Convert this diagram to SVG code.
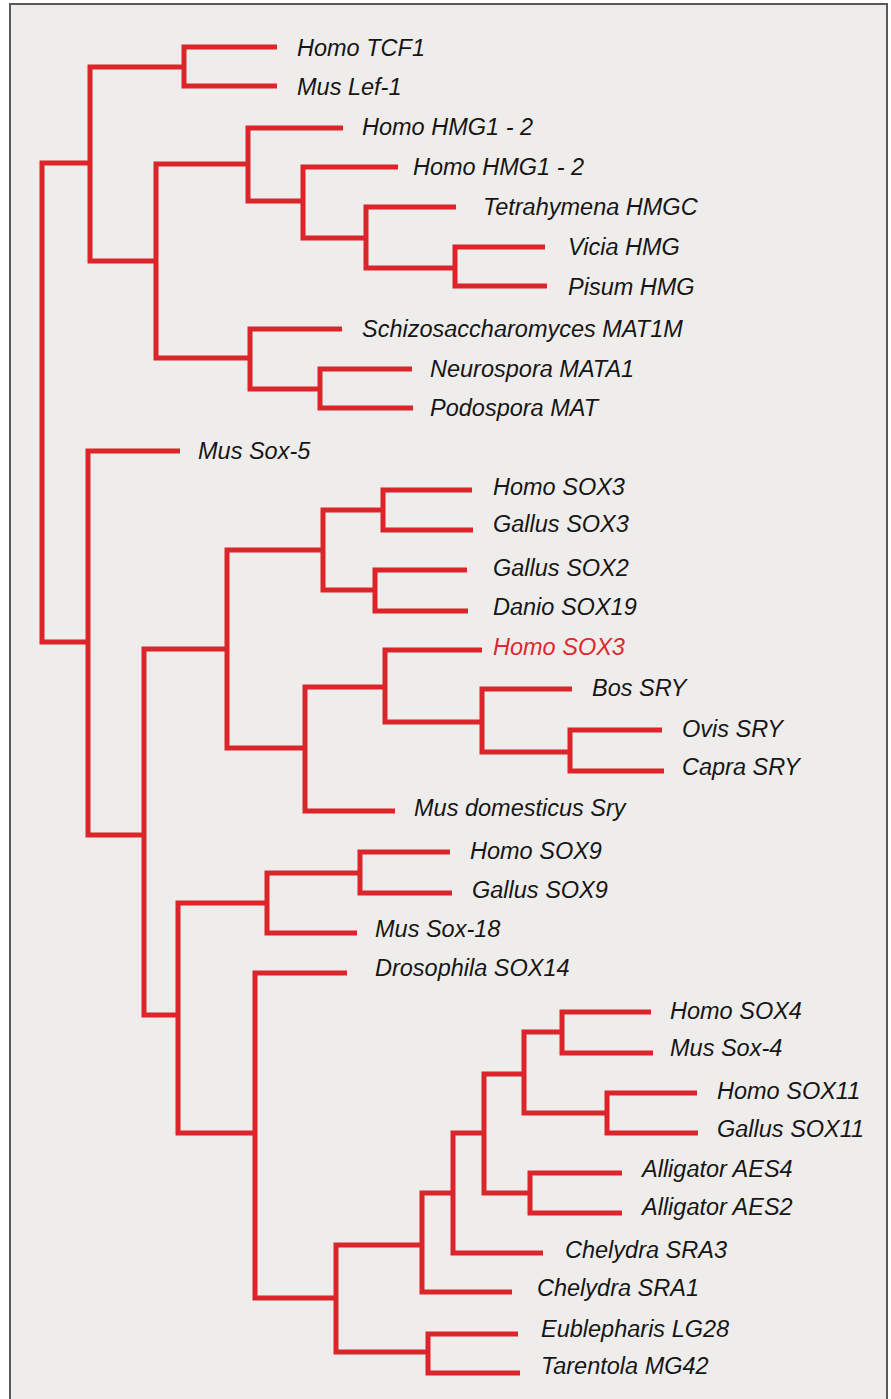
<svg xmlns="http://www.w3.org/2000/svg" width="891" height="1399" viewBox="0 0 891 1399">
<style>
.br{fill:none;stroke:#db252b;stroke-width:5;stroke-linejoin:miter;stroke-linecap:butt}
text{font-family:"Liberation Sans",Arial,sans-serif;font-style:italic;font-size:23.5px;fill:#161616}
.hl{fill:#dc2a2e}
</style>
<rect x="0" y="0" width="891" height="1399" fill="#ffffff"/>
<rect x="10" y="4" width="877" height="1410" fill="#efedeb" stroke="#5a5a5a" stroke-width="2"/>
<g id="connectors">
<path class="br" d="M90,163 H42 V642 H88"/>
<path class="br" d="M184,67 H90 V261 H156"/>
<path class="br" d="M277,47 H184 V86 H277"/>
<path class="br" d="M248,164 H156 V358 H250"/>
<path class="br" d="M343,128 H248 V201 H303"/>
<path class="br" d="M398,167 H303 V238 H366"/>
<path class="br" d="M456,207 H366 V268 H455"/>
<path class="br" d="M545,247 H455 V286 H547"/>
<path class="br" d="M342,329 H250 V389 H320"/>
<path class="br" d="M412,369 H320 V408 H413"/>
<path class="br" d="M180,451 H88 V835 H144"/>
<path class="br" d="M227,649 H144 V1015 H178"/>
<path class="br" d="M323,550 H227 V748 H305"/>
<path class="br" d="M383,510 H323 V590 H375"/>
<path class="br" d="M472,490 H383 V530 H473"/>
<path class="br" d="M467,570 H375 V611 H468"/>
<path class="br" d="M385,687 H305 V811 H395"/>
<path class="br" d="M482,650 H385 V722 H482"/>
<path class="br" d="M572,689 H482 V752 H570"/>
<path class="br" d="M662,730 H570 V771 H664"/>
<path class="br" d="M267,903 H178 V1133 H255"/>
<path class="br" d="M360,873 H267 V933 H357"/>
<path class="br" d="M450,852 H360 V893 H452"/>
<path class="br" d="M347,973 H255 V1298 H336"/>
<path class="br" d="M422,1245 H336 V1352 H428"/>
<path class="br" d="M518,1334 H428 V1373 H520"/>
<path class="br" d="M453,1193 H422 V1292 H512"/>
<path class="br" d="M484,1133 H453 V1253 H543"/>
<path class="br" d="M524,1074 H484 V1193 H530"/>
<path class="br" d="M562,1032 H524 V1113 H607"/>
<path class="br" d="M651,1012 H562 V1053 H653"/>
<path class="br" d="M697,1093 H607 V1133 H698"/>
<path class="br" d="M622,1173 H530 V1213 H622"/>
</g>
<g id="n1"><text x="297" y="56">Homo TCF1</text></g>
<g id="n2"><text x="297" y="95">Mus Lef-1</text></g>
<g id="n3"><text x="362" y="135">Homo HMG1 - 2</text></g>
<g id="n4"><text x="413" y="175">Homo HMG1 - 2</text></g>
<g id="n5"><text x="483" y="215">Tetrahymena HMGC</text></g>
<g id="n6"><text x="568" y="255">Vicia HMG</text></g>
<g id="n7"><text x="568" y="295">Pisum HMG</text></g>
<g id="n8"><text x="362" y="337">Schizosaccharomyces MAT1M</text></g>
<g id="n9"><text x="430" y="377">Neurospora MATA1</text></g>
<g id="n10"><text x="430" y="416">Podospora MAT</text></g>
<g id="n11"><text x="198" y="459">Mus Sox-5</text></g>
<g id="n12"><text x="493" y="495">Homo SOX3</text></g>
<g id="n13"><text x="493" y="532">Gallus SOX3</text></g>
<g id="n14"><text x="493" y="576">Gallus SOX2</text></g>
<g id="n15"><text x="493" y="615">Danio SOX19</text></g>
<g id="n16"><text class="hl" x="493" y="655">Homo SOX3</text></g>
<g id="n17"><text x="592" y="696">Bos SRY</text></g>
<g id="n18"><text x="682" y="737">Ovis SRY</text></g>
<g id="n19"><text x="682" y="775">Capra SRY</text></g>
<g id="n20"><text x="414" y="816">Mus domesticus Sry</text></g>
<g id="n21"><text x="470" y="859">Homo SOX9</text></g>
<g id="n22"><text x="472" y="898">Gallus SOX9</text></g>
<g id="n23"><text x="375" y="937">Mus Sox-18</text></g>
<g id="n24"><text x="375" y="976">Drosophila SOX14</text></g>
<g id="n25"><text x="670" y="1019">Homo SOX4</text></g>
<g id="n26"><text x="670" y="1056">Mus Sox-4</text></g>
<g id="n27"><text x="717" y="1099">Homo SOX11</text></g>
<g id="n28"><text x="717" y="1137">Gallus SOX11</text></g>
<g id="n29"><text x="642" y="1177">Alligator AES4</text></g>
<g id="n30"><text x="642" y="1215">Alligator AES2</text></g>
<g id="n31"><text x="565" y="1258">Chelydra SRA3</text></g>
<g id="n32"><text x="537" y="1296">Chelydra SRA1</text></g>
<g id="n33"><text x="541" y="1337">Eublepharis LG28</text></g>
<g id="n34"><text x="541" y="1374">Tarentola MG42</text></g>
</svg>
